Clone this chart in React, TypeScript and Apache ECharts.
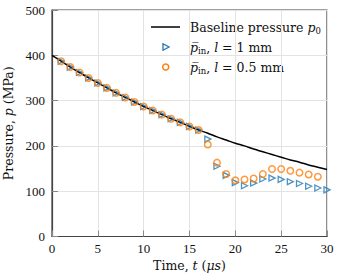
import React, { useEffect, useRef } from "react";
import * as echarts from "echarts";

const baselineT = [0, 1, 2, 3, 4, 5, 6, 7, 8, 9, 10, 11, 12, 13, 14, 15, 16, 17, 18, 19, 20, 21, 22, 23, 24, 25, 26, 27, 28, 29, 30];
const baselineP = [400, 387, 374, 362, 350, 339, 328, 317, 307, 297, 287, 278, 269, 260, 252, 243, 235, 228, 220, 213, 206, 200, 193, 187, 181, 175, 169, 164, 158, 153, 148];

const tri1T = [1, 2, 3, 4, 5, 6, 7, 8, 9, 10, 11, 12, 13, 14, 15, 16, 17, 18, 19, 20, 21, 22, 23, 24, 25, 26, 27, 28, 29, 30];
const tri1P = [387, 374, 362, 350, 339, 328, 317, 307, 297, 287, 278, 269, 260, 252, 243, 235, 215, 155, 135, 119, 112, 118, 127, 129, 126, 121, 117, 111, 107, 103];

const circT = [1, 2, 3, 4, 5, 6, 7, 8, 9, 10, 11, 12, 13, 14, 15, 16, 17, 18, 19, 20, 21, 22, 23, 24, 25, 26, 27, 28, 29];
const circP = [387, 374, 362, 350, 339, 328, 317, 307, 297, 287, 278, 269, 260, 252, 243, 235, 203, 163, 138, 124, 126, 128, 138, 149, 149, 145, 141, 137, 132];

const xTicks = [0, 5, 10, 15, 20, 25, 30];
const yTicks = [0, 100, 200, 300, 400, 500];

const legendLabels = [
  "{n|Baseline pressure }{i|p}{sub|0}",
  "{i|p\u0305}{sub|in}{n|, }{i|l}{n| = 1 mm}",
  "{i|p\u0305}{sub|in}{n|, }{i|l}{n| = 0.5 mm}",
];

const TFONT = "DejaVu Serif";
const NFONT = "Liberation Serif";
const BLUE = "#1f77b4";
const ORANGE = "#ff7f0e";

export default function App() {
  const ref = useRef<HTMLDivElement>(null);
  useEffect(() => {
    if (!ref.current) return;
    const chart = echarts.init(ref.current, null, { renderer: "svg" });
    const pair = (xs: number[], ys: number[]) => xs.map((x, i) => [x, ys[i]]);
    const rich = {
      i: { fontFamily: TFONT, fontStyle: "italic", fontSize: 12.5, color: "#111", lineHeight: 16 },
      sub: { fontFamily: TFONT, fontSize: 8.5, color: "#111", verticalAlign: "bottom", lineHeight: 11 },
      n: { fontFamily: TFONT, fontSize: 12.5, color: "#111", lineHeight: 16 },
    };
    const lx = 190;
    const rows = [27, 47, 67];
    chart.setOption({
      animation: false,
      backgroundColor: "#fff",
      grid: {
        left: 52, right: 13, top: 10, bottom: 43.5,
        containLabel: false, outerBoundsMode: "none",
        show: true, borderColor: "#444", borderWidth: 1.2, backgroundColor: "transparent",
      },
      xAxis: {
        type: "value",
        min: 0,
        max: 30,
        interval: 5,
        name: "Time, {i|t} ({i|\u03bcs})",
        nameLocation: "middle",
        nameGap: 20,
        nameTextStyle: { fontFamily: TFONT, fontSize: 12.5, color: "#111", rich },
        axisLine: { show: true, lineStyle: { color: "#444", width: 1.2 } },
        axisTick: { show: true, inside: true, length: 6, lineStyle: { color: "#888" } },
        axisLabel: { fontFamily: NFONT, fontSize: 13, color: "#111", margin: 5, formatter: (v: number) => (xTicks.includes(v) ? String(v) : "") },
        splitLine: { show: true, lineStyle: { color: "#e3e3e3", width: 1 } },
      },
      yAxis: {
        type: "value",
        min: 0,
        max: 500,
        interval: 100,
        name: "Pressure, {i|p} (MPa)",
        nameLocation: "middle",
        nameGap: 31,
        nameTextStyle: { fontFamily: TFONT, fontSize: 12.5, color: "#111", rich },
        axisLine: { show: true, lineStyle: { color: "#444", width: 1.2 } },
        axisTick: { show: true, inside: true, length: 6, lineStyle: { color: "#888" } },
        axisLabel: { fontFamily: NFONT, fontSize: 13, color: "#111", margin: 7, formatter: (v: number) => (yTicks.includes(v) ? String(v) : "") },
        splitLine: { show: true, lineStyle: { color: "#e3e3e3", width: 1 } },
      },
      graphic: [
        {
          type: "group",
          z: 100,
          children: [
            { type: "rect", shape: { x: 146, y: 12, width: 179, height: 68 }, style: { fill: "rgba(255,255,255,0.8)" } },
            { type: "line", shape: { x1: 151, y1: rows[0], x2: 180, y2: rows[0] }, style: { stroke: "#000", lineWidth: 1.5 } },
            { type: "polygon", shape: { points: [[163, rows[1] - 3.2], [169, rows[1]], [163, rows[1] + 3.2]] }, style: { fill: "rgba(255,255,255,0)", stroke: BLUE, lineWidth: 1.3 } },
            { type: "circle", shape: { cx: 165.7, cy: rows[2], r: 3 }, style: { fill: "rgba(255,255,255,0)", stroke: ORANGE, lineWidth: 1.5 } },
            ...legendLabels.map((t, k) => ({
              type: "text",
              x: lx,
              y: rows[k],
              style: { text: t, rich, verticalAlign: "middle", align: "left", fontFamily: TFONT, fontSize: 12.5, fill: "#111" },
            })),
          ],
        },
      ],
      series: [
        {
          name: "base",
          type: "line",
          data: pair(baselineT, baselineP),
          smooth: true,
          symbol: "none",
          lineStyle: { color: "#000", width: 1.5 },
          z: 2,
        },
        {
          name: "l1",
          type: "scatter",
          data: pair(tri1T, tri1P),
          symbol: "triangle",
          symbolRotate: -90,
          symbolSize: 6,
          itemStyle: { color: "rgba(255,255,255,0)", borderColor: BLUE, borderWidth: 1.3 },
          z: 3,
        },
        {
          name: "l05",
          type: "scatter",
          data: pair(circT, circP),
          symbol: "circle",
          symbolSize: 6.5,
          itemStyle: { color: "rgba(255,255,255,0)", borderColor: ORANGE, borderWidth: 1.5 },
          z: 4,
        },
      ],
    });
    return () => chart.dispose();
  }, []);
  return <div ref={ref} style={{ width: 340, height: 280, position: "absolute", left: 0, top: 0 }} />;
}
